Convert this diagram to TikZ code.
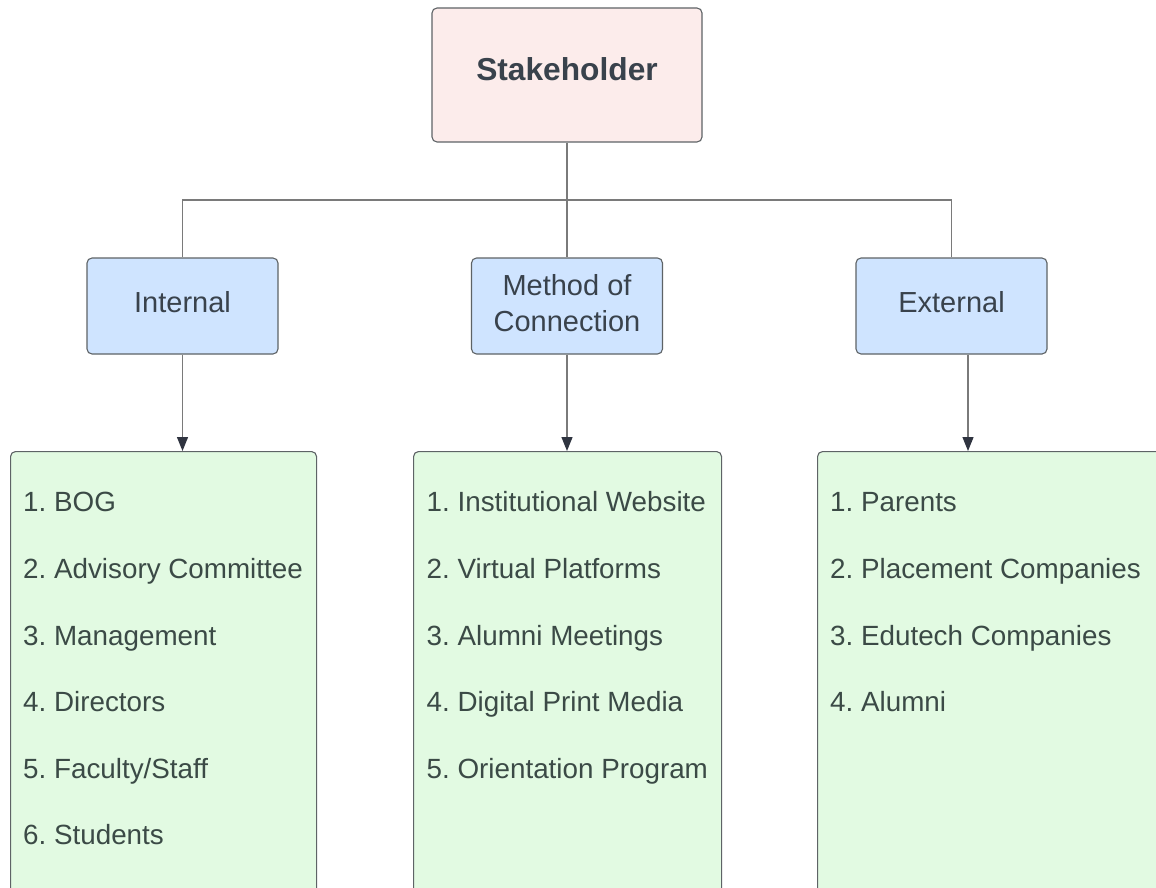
\documentclass[tikz,border=0pt]{standalone}
\usepackage{fontspec}
\setmainfont{Liberation Sans}
\usetikzlibrary{arrows.meta}
\frenchspacing
\definecolor{pinkfill}{HTML}{FCECEB}
\definecolor{bluefill}{HTML}{CFE4FF}
\definecolor{greenfill}{HTML}{E2FAE2}
\definecolor{boxline}{HTML}{5E6366}
\definecolor{connline}{HTML}{7A7A7A}
\definecolor{tipdark}{HTML}{2F3440}
\definecolor{headtext}{HTML}{39424C}
\definecolor{listtext}{HTML}{3B4A46}
\tikzset{
  rootbox/.style={draw=boxline, line width=1.1pt, fill=pinkfill, rounded corners=5pt,
    minimum width=270pt, minimum height=134pt, inner sep=0pt,
    font=\fontsize{31.7}{36}\selectfont\bfseries, text=headtext,
    text height=23pt, text depth=11.3pt},
  headbox/.style={draw=boxline, line width=1.1pt, fill=bluefill, rounded corners=5pt,
    minimum width=191pt, minimum height=96pt, inner sep=0pt, align=center,
    font=\fontsize{29}{36.7}\selectfont, text=headtext},
  oneline/.style={text height=21pt, text depth=8.2pt},
  listbox/.style={draw=boxline, line width=1.1pt, fill=greenfill, rounded corners=5pt,
    minimum height=560pt, inner sep=0pt, anchor=north west},
  item/.style={anchor=base west, inner sep=0pt, font=\fontsize{27.8}{33}\selectfont, text=listtext},
  conn/.style={draw=connline, line width=1.2pt},
  arr/.style={draw=connline, line width=1.2pt, -{Triangle[width=11pt,length=14pt,color=tipdark]}},
}
\begin{document}
\begin{tikzpicture}[x=1pt,y=-1pt]
\useasboundingbox (0,0) rectangle (1156,888);
\clip (0,0) rectangle (1156,888);
\fill[white] (0,0) rectangle (1156,888);

% root
\node[rootbox] (sh) at (567,75) {Stakeholder};

% headers
\node[headbox,oneline] (int) at (182.5,306) {Internal};
\node[headbox] (meth) at (567,306) {Method of\\Connection\rule[-6pt]{0pt}{0pt}};
\node[headbox,oneline] (ext) at (951.5,306) {External};

% lists
\node[listbox, minimum width=306pt] (lg) at (10,451) {};
\node[listbox, minimum width=308pt] (mg) at (413,451) {};
\node[listbox, minimum width=400pt] (eg) at (817,451) {};

% bus
\coordinate (bus) at (567,200);
\draw[conn] (sh.south) -- (meth.north);
\draw[conn] (int.north) |- (bus) -| (ext.north);

% arrows
\draw[arr] (int.south) -- (int.south |- lg.north);
\draw[arr] (meth.south) -- (meth.south |- mg.north);
\draw[arr] ([xshift=16.5pt]ext.south) -- ([xshift=16.5pt]ext.south |- eg.north);

% internal items
\node[item] (i1) at (23,511) {1. BOG};
\node[item] (i2) at (23,578) {2. Advisory Committee};
\node[item] (i3) at (23,645) {3. Management};
\node[item] (i4) at (23,711) {4. Directors};
\node[item] (i5) at (23,778) {5. Faculty/Staff};
\node[item] (i6) at (23,844) {6. Students};

% method items
\node[item] (m1) at (426.5,511) {1. Institutional Website};
\node[item] (m2) at (426.5,578) {2. Virtual Platforms};
\node[item] (m3) at (426.5,645) {3. Alumni Meetings};
\node[item] (m4) at (426.5,711) {4. Digital Print Media};
\node[item] (m5) at (426.5,778) {5. Orientation Program};

% external items
\node[item] (e1) at (830,511) {1. Parents};
\node[item] (e2) at (830,578) {2. Placement Companies};
\node[item] (e3) at (830,645) {3. Edutech Companies};
\node[item] (e4) at (830,711) {4. Alumni};
\end{tikzpicture}
\end{document}
